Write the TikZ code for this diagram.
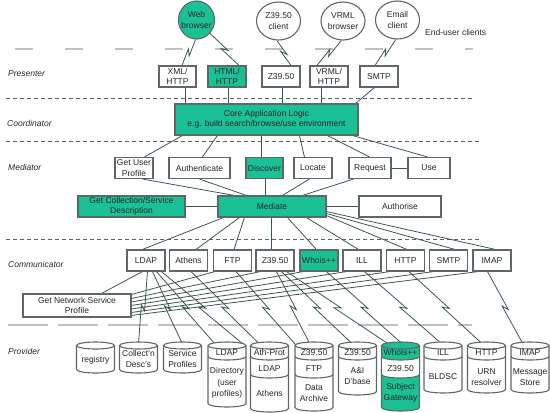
\documentclass[tikz,border=0pt]{standalone}
\usepackage{fontspec}
\setmainfont{Liberation Sans}
\usetikzlibrary{shapes.geometric,calc}
\pgfdeclarelayer{bg}
\pgfsetlayers{bg,main}
\definecolor{tealf}{RGB}{26,192,150}
\definecolor{linec}{RGB}{60,88,78}
\definecolor{boxc}{RGB}{96,104,100}
\definecolor{sepg}{RGB}{192,192,192}
\definecolor{sepd}{RGB}{96,96,96}
\definecolor{txt}{RGB}{40,40,40}
% cylinder: name, centre x, bottom y, fill
\newcommand\dbcyl[4]{%
  \node[cylnode, minimum height={(#3-342)*1pt}, anchor=north] (#1) at (#2,342) {};
  \filldraw[cylline, fill=#4] (#2-19,345.5) -- (#2-19,#3-3.5)
    arc[start angle=180,end angle=360,x radius=19pt,y radius=3.5pt]
    -- (#2+19,345.5)
    arc[start angle=0,end angle=180,x radius=19pt,y radius=3.5pt] -- cycle;
  \draw[cylline] (#2-19,345.5) arc[start angle=180,end angle=360,x radius=19pt,y radius=3.5pt];
}
\newcommand\dbdiv[2]{\draw[cylline] (#1-19,#2) arc[start angle=180,end angle=360,x radius=19pt,y radius=3.5pt];}
\begin{document}
\begin{tikzpicture}[x=1pt,y=-1pt,
  every node/.style={text=txt},
  font=\fontsize{8.5}{10.5}\selectfont,
  box/.style={draw=boxc,line width=1.1pt,fill=white,inner sep=0pt,align=center,minimum height=21pt},
  tbox/.style={box,fill=tealf},
  client/.style={ellipse,draw=boxc,line width=1.1pt,fill=white,minimum width=44pt,minimum height=38pt,inner sep=0pt},
  ctext/.style={inner sep=0pt,align=center},
  lay/.style={font=\fontsize{8.5}{10.5}\selectfont\itshape,anchor=west,inner sep=0pt},
  conn/.style={draw=linec,line width=0.8pt},
  zig/.style={conn,to path={-- ($(\tikztostart)!0.5!(\tikztotarget)!3pt!(\tikztotarget)!2pt!90:(\tikztotarget)$) -- ($(\tikztostart)!0.5!(\tikztotarget)!-3pt!(\tikztotarget)!2pt!-90:(\tikztotarget)$) -- (\tikztotarget)}},
  cylnode/.style={inner sep=0pt,minimum width=38pt},
  cylline/.style={draw=boxc,line width=1.1pt},
  ct/.style={inner sep=0pt,align=center,font=\fontsize{8.5}{11.5}\selectfont},
  sepgray/.style={draw=sepg,line width=1.4pt},
  sepdash/.style={draw=sepd,line width=1pt,dash pattern=on 4pt off 3pt}]
\useasboundingbox (0,0) rectangle (550,413);

% layer labels
\node[lay] (lp) at (8,74) {Presenter};
\node[lay] (lc) at (7,123) {Coordinator};
\node[lay] (lm) at (8,167) {Mediator};
\node[lay] (lco) at (8,264) {Communicator};
\node[lay] (lpr) at (8,351) {Provider};
\node[anchor=west,inner sep=0pt] (euc) at (425,32) {End-user clients};

% clients
\node[client,fill=tealf,minimum width=36pt] (web) at (196.5,20) {};
\node[ctext] (webt) at (web) {Web\\browser};
\node[client] (zc) at (278.5,21) {};
\node[ctext] (zct) at (zc) {Z39.50\\client};
\node[client] (vc) at (343,21) {};
\node[ctext] (vct) at (vc) {VRML\\browser};
\node[client] (ec) at (397.5,20) {};
\node[ctext] (ect) at (ec) {Email\\client};

% presenter
\node[box,minimum width=37pt] (xml) at (177.5,76.5) {XML/\\HTTP};
\node[tbox,minimum width=38pt] (html) at (227,76.5) {HTML/\\HTTP};
\node[box,minimum width=38pt] (zp) at (281,76.5) {Z39.50};
\node[box,minimum width=38pt] (vp) at (329,76.5) {VRML/\\HTTP};
\node[box,minimum width=38pt] (sp) at (379,76.5) {SMTP};

% coordinator
\node[tbox,minimum width=183pt,minimum height=31pt] (core) at (266.5,119.5) {Core Application Logic\\e.g. build search/browse/use environment};

% mediator
\node[box,minimum width=38pt] (gup) at (134,168) {Get User\\Profile};
\node[box,minimum width=61pt] (auth) at (199.5,168) {Authenticate};
\node[tbox,minimum width=37pt] (disc) at (264.5,168) {Discover};
\node[box,minimum width=38pt] (loc) at (313,168) {Locate};
\node[box,minimum width=42pt] (req) at (370,168) {Request};
\node[box,minimum width=42pt] (use) at (429,168) {Use};
\node[tbox,minimum width=108pt] (med) at (272,206.5) {Mediate};
\node[tbox,minimum width=107pt] (gcsd) at (131.5,206.5) {Get Collection/Service\\Description};
\node[box,minimum width=82pt] (aut) at (400,206.5) {Authorise};

% communicator
\node[box,minimum width=38pt] (ldap) at (146,260.5) {LDAP};
\node[box,minimum width=38pt] (ath) at (188.5,260.5) {Athens};
\node[box,minimum width=38pt] (ftp) at (232.5,260.5) {FTP};
\node[box,minimum width=38pt] (zcm) at (275,260.5) {Z39.50};
\node[tbox,minimum width=38pt] (who) at (319,260.5) {Whois++};
\node[box,minimum width=38pt] (ill) at (362,260.5) {ILL};
\node[box,minimum width=38pt] (http) at (405.5,260.5) {HTTP};
\node[box,minimum width=38pt] (smtp) at (448.5,260.5) {SMTP};
\node[box,minimum width=38pt] (imap) at (492,260.5) {IMAP};
\node[box,minimum width=108pt,minimum height=23pt] (gnsp) at (77,305.5) {Get Network Service\\Profile};

% provider cylinders
\dbcyl{reg}{95.5}{373}{white}
\dbcyl{coll}{138.5}{373}{white}
\dbcyl{serv}{182.5}{373}{white}
\dbcyl{ldir}{227}{407}{white}
\dbdiv{227}{356.5}
\dbcyl{athp}{269.5}{412}{white}
\dbdiv{269.5}{356.5}\dbdiv{269.5}{374.5}
\dbcyl{darc}{314}{411}{white}
\dbdiv{314}{356.5}\dbdiv{314}{374.5}
\dbcyl{ai}{357.5}{395}{white}
\dbdiv{357.5}{356.5}
\dbcyl{sg}{400.5}{411}{tealf}
\fill[white] (400.5-19,356.5) arc[start angle=180,end angle=360,x radius=19pt,y radius=3.5pt]
  -- (400.5+19,374.5) arc[start angle=360,end angle=180,x radius=19pt,y radius=3.5pt] -- cycle;
\draw[cylline] (400.5-19,356.5) -- (400.5-19,374.5) (400.5+19,356.5) -- (400.5+19,374.5);
\dbdiv{400.5}{356.5}\dbdiv{400.5}{374.5}
\dbcyl{bld}{443}{393}{white}
\dbdiv{443}{356.5}
\dbcyl{urn}{486.5}{393}{white}
\dbdiv{486.5}{356.5}
\dbcyl{msg}{530}{393}{white}
\dbdiv{530}{356.5}

% cylinder texts
\node[ct] (t1) at (95.5,360) {registry};
\node[ct] (t2) at (138.5,359) {Collect'n\\Desc's};
\node[ct] (t3) at (182.5,359) {Service\\Profiles};
\node[ct] (t4a) at (227,352.5) {LDAP};
\node[ct] (t4b) at (227,383) {Directory\\(user\\profiles)};
\node[ct] (t5a) at (269.5,352.5) {Ath-Prot};
\node[ct] (t5b) at (269.5,369) {LDAP};
\node[ct] (t5c) at (269.5,393) {Athens};
\node[ct] (t6a) at (314,352.5) {Z39.50};
\node[ct] (t6b) at (314,369) {FTP};
\node[ct] (t6c) at (314,393) {Data\\Archive};
\node[ct] (t7a) at (357.5,352.5) {Z39.50};
\node[ct] (t7b) at (357.5,376) {A\&I\\D'base};
\node[ct] (t8a) at (400.5,352.5) {Whois++};
\node[ct] (t8b) at (400.5,369) {Z39.50};
\node[ct] (t8c) at (400.5,393) {Subject\\Gateway};
\node[ct] (t9a) at (443,352.5) {ILL};
\node[ct] (t9b) at (443,377) {BLDSC};
\node[ct] (t10a) at (486.5,352.5) {HTTP};
\node[ct] (t10b) at (486.5,377) {URN\\resolver};
\node[ct] (t11a) at (530,352.5) {IMAP};
\node[ct] (t11b) at (530,377) {Message\\Store};

% connector end points
\coordinate (e1) at ($(web.south)+(-1,0)$);
\coordinate (p1) at ($(xml.north)+(4.5,0)$);
\coordinate (e2) at (web.-45);
\coordinate (p2) at ($(html.north)+(12,0)$);
\coordinate (e3) at (zc.-95);
\coordinate (p3) at ($(zp.north)+(10,0)$);
\coordinate (e4) at (vc.-95);
\coordinate (p4) at ($(vp.north)+(-12,0)$);
\coordinate (e5) at (ec.-95);
\coordinate (p5) at ($(sp.north)+(-4,0)$);

\coordinate (l2) at ($(ldap.south west)+(21,0)$);
\coordinate (l3) at ($(ldap.south west)+(26,0)$);
\coordinate (l4) at ($(ldap.south west)+(30,0)$);
\coordinate (l5) at ($(ldap.south west)+(35,0)$);
\coordinate (a1) at ($(ath.south west)+(22,0)$);
\coordinate (f1) at ($(ftp.south west)+(23,0)$);
\coordinate (z1) at ($(zcm.south west)+(21,0)$);
\coordinate (z2) at ($(zcm.south west)+(26,0)$);
\coordinate (z3) at ($(zcm.south west)+(31,0)$);
\coordinate (w1) at ($(who.south west)+(27,0)$);
\coordinate (i1) at ($(ill.south west)+(22,0)$);
\coordinate (h1) at ($(http.south west)+(23,0)$);
\coordinate (m1) at ($(imap.south west)+(15,0)$);

\coordinate (q2) at ($(coll.north)+(0,2)$);
\coordinate (q3) at ($(serv.north)+(0,2)$);
\coordinate (q4) at ($(ldir.north)+(-12,2)$);
\coordinate (q5) at ($(ldir.north)+(16,2)$);
\coordinate (qa) at ($(athp.north)+(-10,2)$);
\coordinate (qf) at ($(darc.north)+(-18,3)$);
\coordinate (qz1) at ($(darc.north)+(-4,2)$);
\coordinate (qz2) at ($(ai.north)+(-5,2)$);
\coordinate (qz3) at ($(sg.north)+(-12,2)$);
\coordinate (qw) at ($(sg.north)+(2,2)$);
\coordinate (qi) at ($(bld.north)+(-1,2)$);
\coordinate (qh) at ($(urn.north)+(-4,2)$);
\coordinate (qm) at ($(msg.north)+(-7,2)$);

\begin{pgfonlayer}{bg}
% separators
\draw[sepgray,dash pattern=on 18pt off 32pt] (15,49) -- (473,49);
\draw[sepdash] (6,98) -- (474,98);
\draw[sepdash] (6,141) -- (480,141);
\draw[sepdash] (6,239) -- (480,239);
\draw[sepgray,dash pattern=on 40pt off 10pt] (8,325) -- (472,325);

% clients to presenter
\draw[zig] (e1) to (p1);
\draw[zig] (e2) to (p2);
\draw[zig] (e3) to (p3);
\draw[zig] (e4) to (p4);
\draw[zig] (e5) to (p5);

% presenter to coordinator
\draw[conn] ($(xml.south west)+(27,0)$) -- ($(core.north west)+(11,0)$);
\draw[conn] ($(html.south west)+(21,0)$) -- ($(core.north west)+(54,0)$);
\draw[conn] ($(zp.south west)+(21,0)$) -- ($(core.north west)+(108,0)$);
\draw[conn] ($(vp.south west)+(12,0)$) -- ($(core.north west)+(147,0)$);
\draw[conn] ($(sp.south west)+(15,0)$) -- ($(core.north east)+(-3,0)$);

% coordinator to mediator
\draw[conn] ($(core.south west)+(8,0)$) -- ($(gup.north west)+(30,0)$);
\draw[conn] ($(core.south west)+(43,0)$) -- ($(auth.north west)+(34,0)$);
\draw[conn] ($(core.south west)+(87,0)$) -- ($(disc.north west)+(16,0)$);
\draw[conn] ($(core.south west)+(125,0)$) -- ($(loc.north west)+(11,0)$);
\draw[conn] ($(core.south west)+(153,0)$) -- ($(req.north west)+(21,0)$);
\draw[conn] ($(core.south east)+(-6,0)$) -- ($(use.north west)+(20,0)$);

% mediator boxes to mediate
\draw[conn] ($(gup.south west)+(28,0)$) -- ($(med.north west)+(17,0)$);
\draw[conn] ($(auth.south west)+(31,0)$) -- ($(med.north west)+(29,0)$);
\draw[conn] ($(disc.south west)+(20,0)$) -- ($(med.north west)+(48,0)$);
\draw[conn] ($(loc.south west)+(16,0)$) -- ($(med.north west)+(65,0)$);
\draw[conn] ($(req.south west)+(5,0)$) -- ($(med.north west)+(85,0)$);
\draw[conn] (req.east) -- (use.west);
\draw[conn] (gcsd.east) -- (med.west);
\draw[conn] (med.east) -- (aut.west);

% mediate to communicator
\draw[conn] ($(med.south west)+(6,0)$) -- ($(ldap.north west)+(16,0)$);
\draw[conn] ($(med.south west)+(22,0)$) -- ($(ath.north west)+(27,0)$);
\draw[conn] ($(med.south west)+(27,0)$) -- ($(ftp.north west)+(21,0)$);
\draw[conn] ($(med.south west)+(54,0)$) -- ($(zcm.north west)+(16,0)$);
\draw[conn] ($(med.south west)+(70,0)$) -- ($(who.north west)+(17,0)$);
\draw[conn] ($(med.south west)+(89,0)$) -- ($(ill.north west)+(16,0)$);
\draw[conn] ($(med.south east)+(0,-2)$) -- ($(http.north west)+(21,0)$);
\draw[conn] ($(med.south east)+(0,-4)$) -- ($(smtp.north west)+(26,0)$);
\draw[conn] ($(med.south east)+(0,-6)$) -- ($(imap.north west)+(23,0)$);

% communicator to network service profile
\draw[conn] ($(ldap.south west)+(16,0)$) -- ($(gnsp.north east)+(-30,0)$);
\draw[conn] ($(ftp.south west)+(2,0)$) -- ($(gnsp.north east)+(0,1)$);
\draw[conn] ($(zcm.south west)+(5,0)$) -- ($(gnsp.north east)+(0,5)$);
\draw[conn] ($(who.south west)+(4,0)$) -- ($(gnsp.north east)+(0,8.5)$);
\draw[conn] ($(ill.south west)+(4,0)$) -- ($(gnsp.north east)+(0,12)$);
\draw[conn] ($(http.south west)+(4,0)$) -- ($(gnsp.north east)+(0,15.5)$);
\draw[conn] ($(smtp.south west)+(5,0)$) -- ($(gnsp.north east)+(0,19)$);
\draw[conn] ($(imap.south west)+(6,0)$) -- ($(gnsp.north east)+(0,22)$);

% communicator to provider
\draw[zig] (l2) to (q2);
\draw[zig] (l3) to (q3);
\draw[zig] (l4) to (q4);
\draw[zig] (l5) to (q5);
\draw[zig] (a1) to (qa);
\draw[zig] (f1) to (qf);
\draw[zig] (z1) to (qz1);
\draw[zig] (z2) to (qz2);
\draw[zig] (z3) to (qz3);
\draw[zig] (w1) to (qw);
\draw[zig] (i1) to (qi);
\draw[zig] (h1) to (qh);
\draw[zig] (m1) to (qm);
\end{pgfonlayer}
\end{tikzpicture}
\end{document}
